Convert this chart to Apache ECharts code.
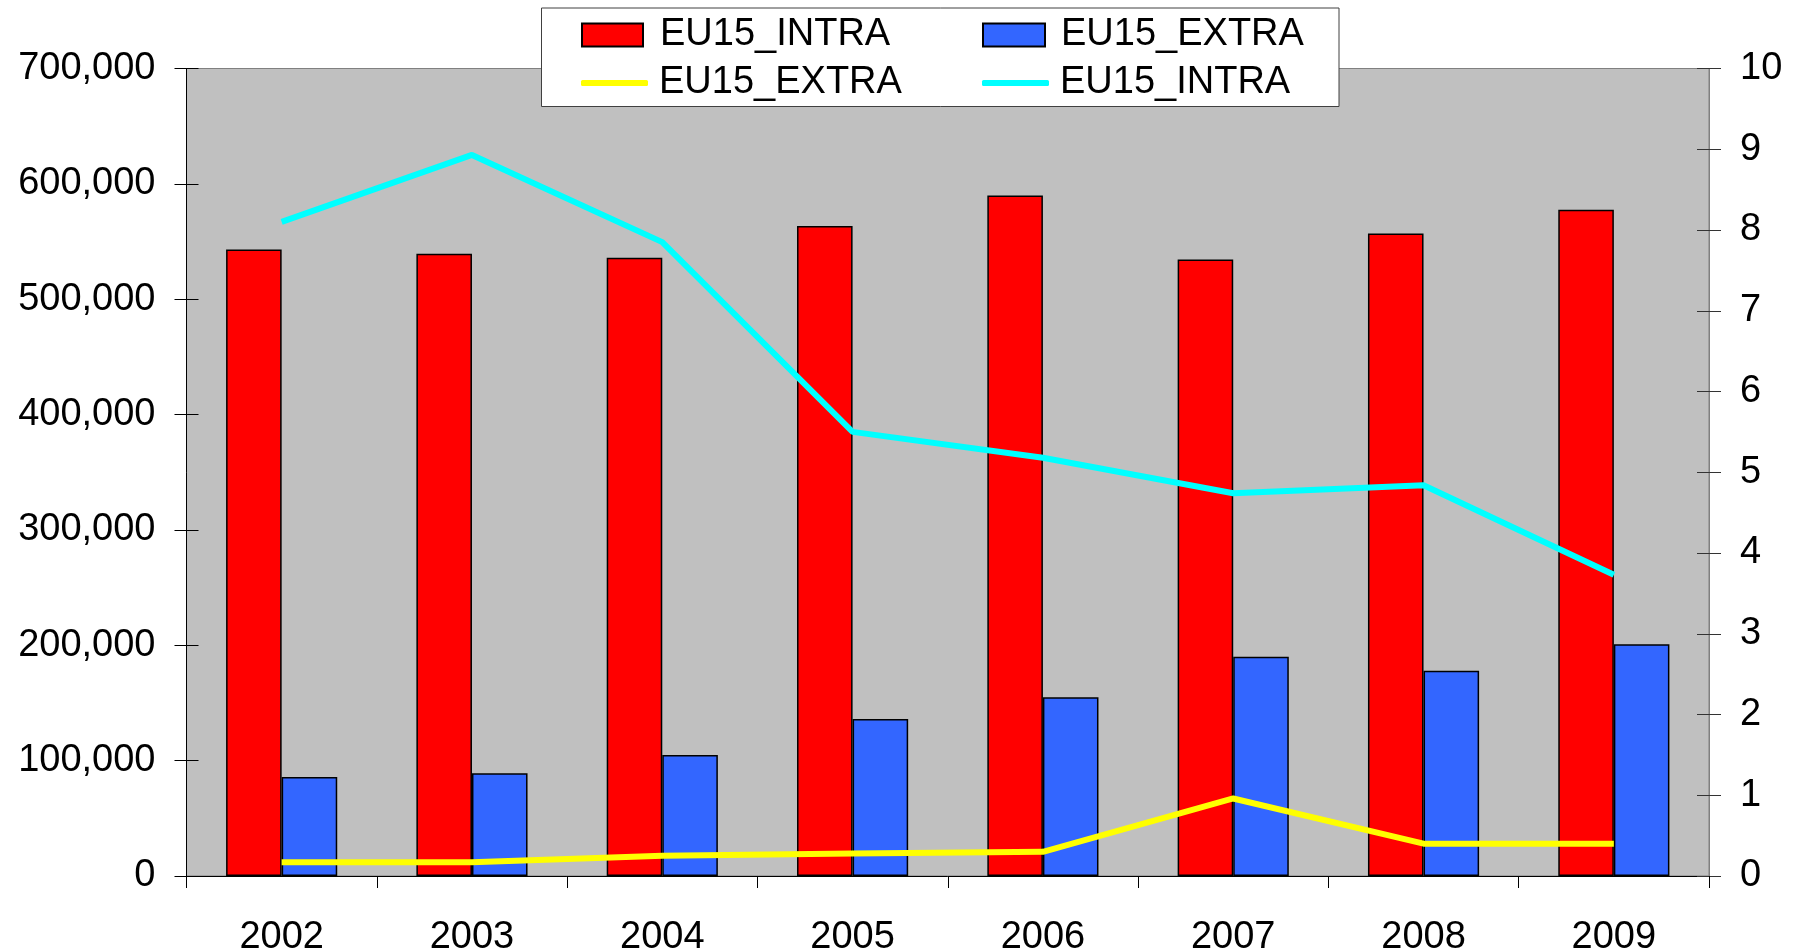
<!DOCTYPE html>
<html>
<head>
<meta charset="utf-8">
<script src="https://cdn.jsdelivr.net/npm/echarts@6/dist/echarts.min.js"></script>
<style>
html,body{margin:0;padding:0;background:#fff;}
#chart{width:1796px;height:949px;}
</style>
</head>
<body>
<div id="chart"></div>
<script>
var years = ['2002','2003','2004','2005','2006','2007','2008','2009'];
var intraBars = [543000, 539500, 536000, 563500, 590000, 534500, 557000, 577500];
var extraBars = [85800, 89000, 105000, 136000, 155000, 190000, 178000, 200800];
var extraLine = [0.17, 0.17, 0.25, 0.28, 0.30, 0.96, 0.40, 0.40];
var intraLine = [8.10, 8.93, 7.85, 5.50, 5.18, 4.74, 4.84, 3.73];
var leftTicks = {min: 0, max: 700000, interval: 100000};
var rightTicks = {min: 0, max: 10, interval: 1};

var FONT = 'Liberation Sans, Arial, Helvetica, sans-serif';
var chart = echarts.init(document.getElementById('chart'));

function fmtNum(v) {
  return String(v).replace(/\B(?=(\d{3})+(?!\d))/g, ',');
}
function legendName(n) { return n.split('|')[0]; }

function mkLegend(name, left, top, w, h, icon, pad) {
  return {
    data: [name], left: left, top: top, padding: 0,
    itemWidth: w, itemHeight: h, selectedMode: false, icon: icon,
    formatter: legendName,
    textStyle: {fontSize: 38, fontFamily: FONT, color: '#000', padding: [0, 0, 0, pad]},
    z: 5
  };
}

var option = {
  animation: false,
  backgroundColor: '#fff',
  graphic: [{
    type: 'rect', z: 3,
    shape: {x: 541.5, y: 8, width: 797.5, height: 98.5},
    style: {fill: '#fff', stroke: '#404040', lineWidth: 1}
  }],
  legend: [
    mkLegend('EU15_INTRA|bar', 581, 16, 61, 23, 'rect', 12),
    mkLegend('EU15_EXTRA|bar', 982, 16, 62, 23, 'rect', 11),
    mkLegend('EU15_EXTRA|line', 581, 64, 67, 6, 'roundRect', 6),
    mkLegend('EU15_INTRA|line', 982, 64, 67, 6, 'roundRect', 6)
  ],
  grid: {
    left: 186.5, right: 87, top: 68.5, bottom: 73,
    outerBoundsMode: 'none', containLabel: false,
    show: true, backgroundColor: '#C0C0C0', borderColor: '#808080', borderWidth: 1
  },
  xAxis: {
    type: 'category', data: years,
    axisLine: {show: true, lineStyle: {color: '#000', width: 1}},
    axisTick: {show: true, length: 12, lineStyle: {color: '#000'}},
    axisLabel: {fontSize: 38, fontFamily: FONT, color: '#000', margin: 43},
    splitLine: {show: false}
  },
  yAxis: [
    {
      type: 'value', position: 'left', min: leftTicks.min, max: leftTicks.max, interval: leftTicks.interval,
      axisLine: {show: true, lineStyle: {color: '#000'}},
      axisTick: {show: true, length: 12, lineStyle: {color: '#000'}},
      axisLabel: {fontSize: 38, fontFamily: FONT, color: '#000', margin: 31, formatter: fmtNum},
      splitLine: {show: false}
    },
    {
      type: 'value', position: 'right', min: rightTicks.min, max: rightTicks.max, interval: rightTicks.interval,
      axisLine: {show: true, lineStyle: {color: '#808080'}},
      axisTick: {show: true, length: 12, lineStyle: {color: '#333'}},
      axisLabel: {fontSize: 38, fontFamily: FONT, color: '#000', margin: 31},
      splitLine: {show: false}
    },
    {
      type: 'value', position: 'left', min: leftTicks.min, max: leftTicks.max, interval: leftTicks.interval,
      axisLine: {show: false},
      axisTick: {show: true, inside: true, length: 12, lineStyle: {color: '#000'}},
      axisLabel: {show: false}, splitLine: {show: false}
    },
    {
      type: 'value', position: 'right', min: rightTicks.min, max: rightTicks.max, interval: rightTicks.interval,
      axisLine: {show: false},
      axisTick: {show: true, inside: true, length: 12, lineStyle: {color: '#333'}},
      axisLabel: {show: false}, splitLine: {show: false}
    }
  ],
  series: [
    {
      name: 'EU15_INTRA|bar', type: 'bar', yAxisIndex: 0, data: intraBars,
      barWidth: '29.2%', barGap: '0%',
      itemStyle: {color: '#FF0000', borderColor: '#000', borderWidth: 1.5}
    },
    {
      name: 'EU15_EXTRA|bar', type: 'bar', yAxisIndex: 0, data: extraBars,
      barWidth: '29.2%', barGap: '0%',
      itemStyle: {color: '#3366FF', borderColor: '#000', borderWidth: 1.5}
    },
    {
      name: 'EU15_EXTRA|line', type: 'line', yAxisIndex: 1, data: extraLine,
      symbol: 'none', z: 4,
      lineStyle: {color: '#FFFF00', width: 6},
      itemStyle: {color: '#FFFF00'}
    },
    {
      name: 'EU15_INTRA|line', type: 'line', yAxisIndex: 1, data: intraLine,
      symbol: 'none', z: 4,
      lineStyle: {color: '#00FFFF', width: 6},
      itemStyle: {color: '#00FFFF'}
    }
  ]
};
chart.setOption(option);
</script>
</body>
</html>
